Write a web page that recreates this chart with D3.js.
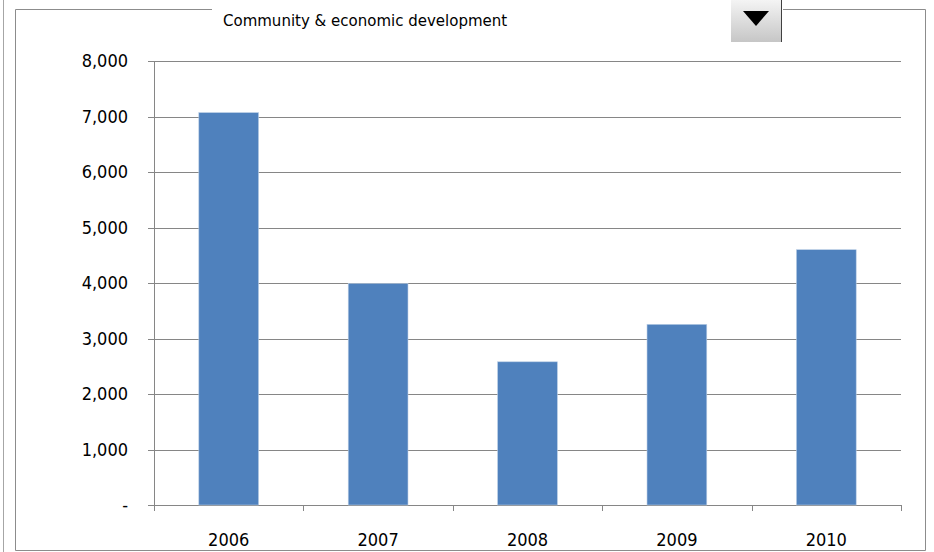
<!DOCTYPE html>
<html>
<head>
	<meta charset="utf-8">
	<title>Community & economic development</title>
	<style type="text/css">
		body{ margin:0; background:#fff; }
		.chart text{ font-family:"DejaVu Sans Condensed", "DejaVu Sans", sans-serif; fill:#000; }
		.chart .title{ font-family:"DejaVu Sans", sans-serif; }
	</style>
</head>
<body>
	<svg width=934 height=552 class="chart"></svg>
	<script type="text/javascript" src="https://cdn.jsdelivr.net/npm/d3@7/dist/d3.min.js"></script>
	<script type="text/javascript">

		title = 'Community & economic development'
		years = ['2006', '2007', '2008', '2009', '2010']
		values = [7070, 3990, 2580, 3255, 4600]
		y_ticks = [0, 1000, 2000, 3000, 4000, 5000, 6000, 7000, 8000]

		plot = {'left':154, 'right':901, 'top':61, 'bottom':505}
		svg = d3.select('.chart')

		x = d3.scaleBand()
			.domain(years)
			.range([plot.left, plot.right])
			.paddingInner(0.6)
			.paddingOuter(0.3)

		y = d3.scaleLinear()
			.domain([0, 8000])
			.range([plot.bottom, plot.top])

		fmt = d3.format(',')

		// left edge line of the sheet
		svg.append('line')
			.attr('x1', 3.5).attr('x2', 3.5)
			.attr('y1', 0).attr('y2', 552)
			.attr('stroke', '#a6a6a6')

		// chart frame, with a gap for the title and the dropdown
		frame = svg.append('g')
			.attr('fill', 'none')
			.attr('stroke', '#8c8c8c')
		frame.append('path')
			.attr('d', 'M212,9.5 H15.5 V550.5 H925.5 V9.5 H783')

		// gridlines
		svg.append('g')
			.selectAll('line')
			.data(y_ticks)
			.enter()
			.append('line')
			.attr('x1', plot.left - 6)
			.attr('x2', plot.right)
			.attr('y1', function(d) {return Math.round(y(d)) + 0.5})
			.attr('y2', function(d) {return Math.round(y(d)) + 0.5})
			.attr('stroke', '#868686')
			.attr('stroke-width', 1.2)

		// y axis line
		svg.append('line')
			.attr('x1', plot.left + 0.5).attr('x2', plot.left + 0.5)
			.attr('y1', plot.top).attr('y2', plot.bottom + 6)
			.attr('stroke', '#868686')

		// y labels
		svg.append('g')
			.selectAll('text')
			.data(y_ticks)
			.enter()
			.append('text')
			.attr('x', 128)
			.attr('y', function(d) {return y(d)})
			.attr('dy', '0.36em')
			.attr('text-anchor', 'end')
			.attr('font-size', 18)
			.text(function(d) {return d === 0 ? '-' : fmt(d)})

		// category boundary ticks
		step = x.step()
		boundaries = d3.range(years.length + 1).map(function(i) {return x.range()[0] + i * step})
		svg.append('g')
			.selectAll('line')
			.data(boundaries)
			.enter()
			.append('line')
			.attr('x1', function(d) {return Math.round(d) + 0.5})
			.attr('x2', function(d) {return Math.round(d) + 0.5})
			.attr('y1', plot.bottom)
			.attr('y2', plot.bottom + 6)
			.attr('stroke', '#868686')

		// bars
		svg.append('g')
			.selectAll('rect')
			.data(values)
			.enter()
			.append('rect')
			.attr('x', function(d, i) {return x(years[i])})
			.attr('y', function(d) {return y(d)})
			.attr('width', x.bandwidth())
			.attr('height', function(d) {return y(0) - y(d)})
			.attr('fill', '#4f81bd')
			.attr('stroke', '#b9cde5')
			.attr('stroke-width', 0.6)

		// x labels
		svg.append('g')
			.selectAll('text')
			.data(years)
			.enter()
			.append('text')
			.attr('x', function(d) {return x(d) + x.bandwidth() / 2})
			.attr('y', 546)
			.attr('text-anchor', 'middle')
			.attr('font-size', 18)
			.text(function(d) {return d})

		// title
		svg.append('text')
			.attr('class', 'title')
			.attr('x', 223)
			.attr('y', 26)
			.attr('font-size', 15)
			.text(title)

		// dropdown button
		grad = svg.append('defs')
			.append('linearGradient')
			.attr('id', 'btn')
			.attr('x1', 0).attr('x2', 0).attr('y1', 0).attr('y2', 1)
		grad.append('stop').attr('offset', '0%').attr('stop-color', '#f4f4f4')
		grad.append('stop').attr('offset', '100%').attr('stop-color', '#c6c6c6')

		btn = svg.append('g')
		btn.append('rect')
			.attr('x', 731).attr('y', 0)
			.attr('width', 50).attr('height', 42)
			.attr('fill', 'url(#btn)')
		btn.append('line')
			.attr('x1', 781.5).attr('x2', 781.5)
			.attr('y1', 0).attr('y2', 42)
			.attr('stroke', '#404040')
		btn.append('path')
			.attr('d', 'M743,11 H769 L756,26 Z')
			.attr('fill', '#000')

	</script>
</body>
</html>
